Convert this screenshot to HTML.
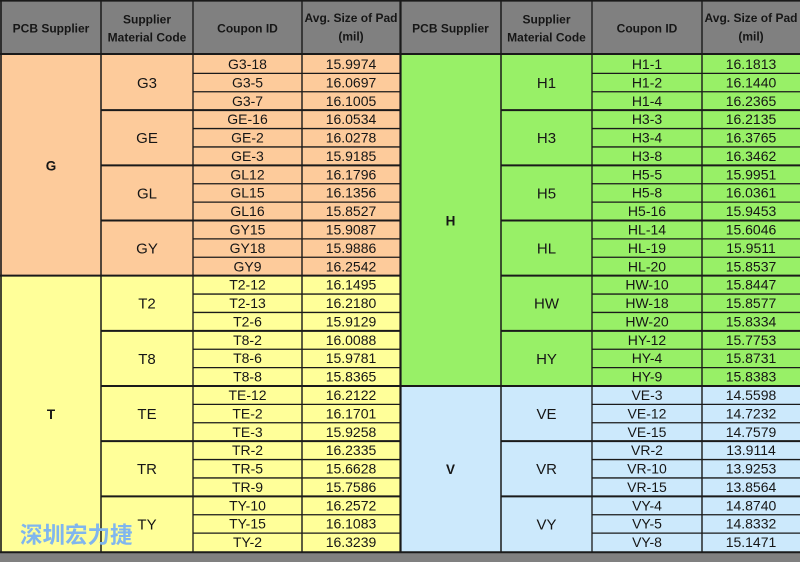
<!DOCTYPE html>
<html>
<head>
<meta charset="utf-8">
<style>
html,body{margin:0;padding:0;background:#808080;}
body{width:800px;height:562px;overflow:hidden;}
svg{display:block;}
text{font-family:"Liberation Sans",Arial,sans-serif;fill:#161616;}
.h{font-size:12px;font-weight:bold;}
.c{font-size:14px;}
.m{font-size:15px;}
.s{font-size:13.5px;font-weight:bold;}
.wm{font-family:"Liberation Sans","Noto Sans CJK SC","WenQuanYi Zen Hei",sans-serif;font-size:22.5px;font-weight:bold;fill:#80B6EE;}
</style>
</head>
<body>
<svg width="800" height="562" viewBox="0 0 800 562" xmlns="http://www.w3.org/2000/svg">
<!-- backgrounds -->
<rect x="0" y="0" width="800" height="562" fill="#808080"/>
<rect x="0" y="55" width="400.5" height="220.67" fill="#FDCB9B"/>
<rect x="0" y="275.67" width="400.5" height="276" fill="#FFFF99"/>
<rect x="400.5" y="55" width="399.5" height="331" fill="#98F067"/>
<rect x="400.5" y="386" width="399.5" height="165.5" fill="#CCE9FC"/>

<g stroke="#1a1a1a" fill="none">
<!-- top / header bottom / bottom -->
<line x1="0" y1="0.8" x2="800" y2="0.8" stroke-width="1.6"/>
<line x1="0" y1="54" x2="800" y2="54" stroke-width="2"/>
<line x1="0" y1="552.3" x2="800" y2="552.3" stroke-width="2"/>
<!-- verticals -->
<line x1="1" y1="0" x2="1" y2="553" stroke-width="1.6"/>
<line x1="101" y1="0" x2="101" y2="553" stroke-width="1.5"/>
<line x1="193" y1="0" x2="193" y2="553" stroke-width="1.3"/>
<line x1="302" y1="0" x2="302" y2="553" stroke-width="1.4"/>
<line x1="400.5" y1="0" x2="400.5" y2="553" stroke-width="2.2"/>
<line x1="501" y1="0" x2="501" y2="553" stroke-width="1.5"/>
<line x1="592" y1="0" x2="592" y2="553" stroke-width="1.3"/>
<line x1="702" y1="0" x2="702" y2="553" stroke-width="1.4"/>

<!-- left horizontals -->
<g stroke-width="1.3">
<line x1="193" y1="73.39" x2="400.5" y2="73.39"/>
<line x1="193" y1="91.78" x2="400.5" y2="91.78"/>
<line x1="193" y1="128.56" x2="400.5" y2="128.56"/>
<line x1="193" y1="146.94" x2="400.5" y2="146.94"/>
<line x1="193" y1="183.72" x2="400.5" y2="183.72"/>
<line x1="193" y1="202.11" x2="400.5" y2="202.11"/>
<line x1="193" y1="238.89" x2="400.5" y2="238.89"/>
<line x1="193" y1="257.28" x2="400.5" y2="257.28"/>
<line x1="193" y1="294.06" x2="400.5" y2="294.06"/>
<line x1="193" y1="312.44" x2="400.5" y2="312.44"/>
<line x1="193" y1="349.22" x2="400.5" y2="349.22"/>
<line x1="193" y1="367.61" x2="400.5" y2="367.61"/>
<line x1="193" y1="404.39" x2="400.5" y2="404.39"/>
<line x1="193" y1="422.78" x2="400.5" y2="422.78"/>
<line x1="193" y1="459.56" x2="400.5" y2="459.56"/>
<line x1="193" y1="477.94" x2="400.5" y2="477.94"/>
<line x1="193" y1="514.72" x2="400.5" y2="514.72"/>
<line x1="193" y1="533.11" x2="400.5" y2="533.11"/>
</g>
<g stroke-width="2">
<line x1="101" y1="110.17" x2="400.5" y2="110.17"/>
<line x1="101" y1="165.33" x2="400.5" y2="165.33"/>
<line x1="101" y1="220.5" x2="400.5" y2="220.5"/>
<line x1="0" y1="275.67" x2="400.5" y2="275.67"/>
<line x1="101" y1="330.83" x2="400.5" y2="330.83"/>
<line x1="101" y1="386" x2="400.5" y2="386"/>
<line x1="101" y1="441.17" x2="400.5" y2="441.17"/>
<line x1="101" y1="496.33" x2="400.5" y2="496.33"/>
</g>

<!-- right horizontals -->
<g stroke-width="1.3">
<line x1="592" y1="73.39" x2="800" y2="73.39"/>
<line x1="592" y1="91.78" x2="800" y2="91.78"/>
<line x1="592" y1="128.56" x2="800" y2="128.56"/>
<line x1="592" y1="146.94" x2="800" y2="146.94"/>
<line x1="592" y1="183.72" x2="800" y2="183.72"/>
<line x1="592" y1="202.11" x2="800" y2="202.11"/>
<line x1="592" y1="238.89" x2="800" y2="238.89"/>
<line x1="592" y1="257.28" x2="800" y2="257.28"/>
<line x1="592" y1="294.06" x2="800" y2="294.06"/>
<line x1="592" y1="312.44" x2="800" y2="312.44"/>
<line x1="592" y1="349.22" x2="800" y2="349.22"/>
<line x1="592" y1="367.61" x2="800" y2="367.61"/>
<line x1="592" y1="404.39" x2="800" y2="404.39"/>
<line x1="592" y1="422.78" x2="800" y2="422.78"/>
<line x1="592" y1="459.56" x2="800" y2="459.56"/>
<line x1="592" y1="477.94" x2="800" y2="477.94"/>
<line x1="592" y1="514.72" x2="800" y2="514.72"/>
<line x1="592" y1="533.11" x2="800" y2="533.11"/>
</g>
<g stroke-width="2">
<line x1="501" y1="110.17" x2="800" y2="110.17"/>
<line x1="501" y1="165.33" x2="800" y2="165.33"/>
<line x1="501" y1="220.5" x2="800" y2="220.5"/>
<line x1="501" y1="275.67" x2="800" y2="275.67"/>
<line x1="501" y1="330.83" x2="800" y2="330.83"/>
<line x1="400.5" y1="386" x2="800" y2="386"/>
<line x1="501" y1="441.17" x2="800" y2="441.17"/>
<line x1="501" y1="496.33" x2="800" y2="496.33"/>
</g>
</g>

<!-- headers -->
<g class="h" text-anchor="middle">
<text x="51" y="32.5">PCB Supplier</text>
<text x="147" y="23.5">Supplier</text>
<text x="147" y="41.5">Material Code</text>
<text x="247.5" y="32.5">Coupon ID</text>
<text x="351" y="22">Avg. Size of Pad</text>
<text x="351" y="40.5">(mil)</text>
<text x="450.5" y="32.5">PCB Supplier</text>
<text x="546.5" y="23.5">Supplier</text>
<text x="546.5" y="41.5">Material Code</text>
<text x="647" y="32.5">Coupon ID</text>
<text x="751" y="22">Avg. Size of Pad</text>
<text x="751" y="40.5">(mil)</text>
</g>

<!-- supplier labels -->
<g class="s" text-anchor="middle">
<text x="51" y="170.5">G</text>
<text x="51" y="418.8">T</text>
<text x="450.5" y="225.7">H</text>
<text x="450.5" y="474">V</text>
</g>

<!-- material codes -->
<g class="m" text-anchor="middle">
<text x="147" y="88">G3</text>
<text x="147" y="143.2">GE</text>
<text x="147" y="198.3">GL</text>
<text x="147" y="253.5">GY</text>
<text x="147" y="308.7">T2</text>
<text x="147" y="363.8">T8</text>
<text x="147" y="419">TE</text>
<text x="147" y="474.2">TR</text>
<text x="147" y="529.3">TY</text>
<text x="546.5" y="88">H1</text>
<text x="546.5" y="143.2">H3</text>
<text x="546.5" y="198.3">H5</text>
<text x="546.5" y="253.5">HL</text>
<text x="546.5" y="308.7">HW</text>
<text x="546.5" y="363.8">HY</text>
<text x="546.5" y="419">VE</text>
<text x="546.5" y="474.2">VR</text>
<text x="546.5" y="529.3">VY</text>
</g>

<!-- left coupon ids -->
<g class="c" text-anchor="middle">
<text x="247.5" y="69">G3-18</text>
<text x="247.5" y="87.4">G3-5</text>
<text x="247.5" y="105.8">G3-7</text>
<text x="247.5" y="124.2">GE-16</text>
<text x="247.5" y="142.6">GE-2</text>
<text x="247.5" y="160.9">GE-3</text>
<text x="247.5" y="179.3">GL12</text>
<text x="247.5" y="197.7">GL15</text>
<text x="247.5" y="216.1">GL16</text>
<text x="247.5" y="234.5">GY15</text>
<text x="247.5" y="252.9">GY18</text>
<text x="247.5" y="271.3">GY9</text>
<text x="247.5" y="289.7">T2-12</text>
<text x="247.5" y="308.1">T2-13</text>
<text x="247.5" y="326.4">T2-6</text>
<text x="247.5" y="344.8">T8-2</text>
<text x="247.5" y="363.2">T8-6</text>
<text x="247.5" y="381.6">T8-8</text>
<text x="247.5" y="400">TE-12</text>
<text x="247.5" y="418.4">TE-2</text>
<text x="247.5" y="436.8">TE-3</text>
<text x="247.5" y="455.2">TR-2</text>
<text x="247.5" y="473.6">TR-5</text>
<text x="247.5" y="491.9">TR-9</text>
<text x="247.5" y="510.3">TY-10</text>
<text x="247.5" y="528.7">TY-15</text>
<text x="247.5" y="547.1">TY-2</text>
</g>
<!-- left values -->
<g class="c" text-anchor="middle">
<text x="351" y="69">15.9974</text>
<text x="351" y="87.4">16.0697</text>
<text x="351" y="105.8">16.1005</text>
<text x="351" y="124.2">16.0534</text>
<text x="351" y="142.6">16.0278</text>
<text x="351" y="160.9">15.9185</text>
<text x="351" y="179.3">16.1796</text>
<text x="351" y="197.7">16.1356</text>
<text x="351" y="216.1">15.8527</text>
<text x="351" y="234.5">15.9087</text>
<text x="351" y="252.9">15.9886</text>
<text x="351" y="271.3">16.2542</text>
<text x="351" y="289.7">16.1495</text>
<text x="351" y="308.1">16.2180</text>
<text x="351" y="326.4">15.9129</text>
<text x="351" y="344.8">16.0088</text>
<text x="351" y="363.2">15.9781</text>
<text x="351" y="381.6">15.8365</text>
<text x="351" y="400">16.2122</text>
<text x="351" y="418.4">16.1701</text>
<text x="351" y="436.8">15.9258</text>
<text x="351" y="455.2">16.2335</text>
<text x="351" y="473.6">15.6628</text>
<text x="351" y="491.9">15.7586</text>
<text x="351" y="510.3">16.2572</text>
<text x="351" y="528.7">16.1083</text>
<text x="351" y="547.1">16.3239</text>
</g>

<!-- right coupon ids -->
<g class="c" text-anchor="middle">
<text x="647" y="69">H1-1</text>
<text x="647" y="87.4">H1-2</text>
<text x="647" y="105.8">H1-4</text>
<text x="647" y="124.2">H3-3</text>
<text x="647" y="142.6">H3-4</text>
<text x="647" y="160.9">H3-8</text>
<text x="647" y="179.3">H5-5</text>
<text x="647" y="197.7">H5-8</text>
<text x="647" y="216.1">H5-16</text>
<text x="647" y="234.5">HL-14</text>
<text x="647" y="252.9">HL-19</text>
<text x="647" y="271.3">HL-20</text>
<text x="647" y="289.7">HW-10</text>
<text x="647" y="308.1">HW-18</text>
<text x="647" y="326.4">HW-20</text>
<text x="647" y="344.8">HY-12</text>
<text x="647" y="363.2">HY-4</text>
<text x="647" y="381.6">HY-9</text>
<text x="647" y="400">VE-3</text>
<text x="647" y="418.4">VE-12</text>
<text x="647" y="436.8">VE-15</text>
<text x="647" y="455.2">VR-2</text>
<text x="647" y="473.6">VR-10</text>
<text x="647" y="491.9">VR-15</text>
<text x="647" y="510.3">VY-4</text>
<text x="647" y="528.7">VY-5</text>
<text x="647" y="547.1">VY-8</text>
</g>
<!-- right values -->
<g class="c" text-anchor="middle">
<text x="751" y="69">16.1813</text>
<text x="751" y="87.4">16.1440</text>
<text x="751" y="105.8">16.2365</text>
<text x="751" y="124.2">16.2135</text>
<text x="751" y="142.6">16.3765</text>
<text x="751" y="160.9">16.3462</text>
<text x="751" y="179.3">15.9951</text>
<text x="751" y="197.7">16.0361</text>
<text x="751" y="216.1">15.9453</text>
<text x="751" y="234.5">15.6046</text>
<text x="751" y="252.9">15.9511</text>
<text x="751" y="271.3">15.8537</text>
<text x="751" y="289.7">15.8447</text>
<text x="751" y="308.1">15.8577</text>
<text x="751" y="326.4">15.8334</text>
<text x="751" y="344.8">15.7753</text>
<text x="751" y="363.2">15.8731</text>
<text x="751" y="381.6">15.8383</text>
<text x="751" y="400">14.5598</text>
<text x="751" y="418.4">14.7232</text>
<text x="751" y="436.8">14.7579</text>
<text x="751" y="455.2">13.9114</text>
<text x="751" y="473.6">13.9253</text>
<text x="751" y="491.9">13.8564</text>
<text x="751" y="510.3">14.8740</text>
<text x="751" y="528.7">14.8332</text>
<text x="751" y="547.1">15.1471</text>
</g>

<!-- watermark -->
<text class="wm" x="20" y="543">深圳宏力捷</text>
</svg>
</body>
</html>
